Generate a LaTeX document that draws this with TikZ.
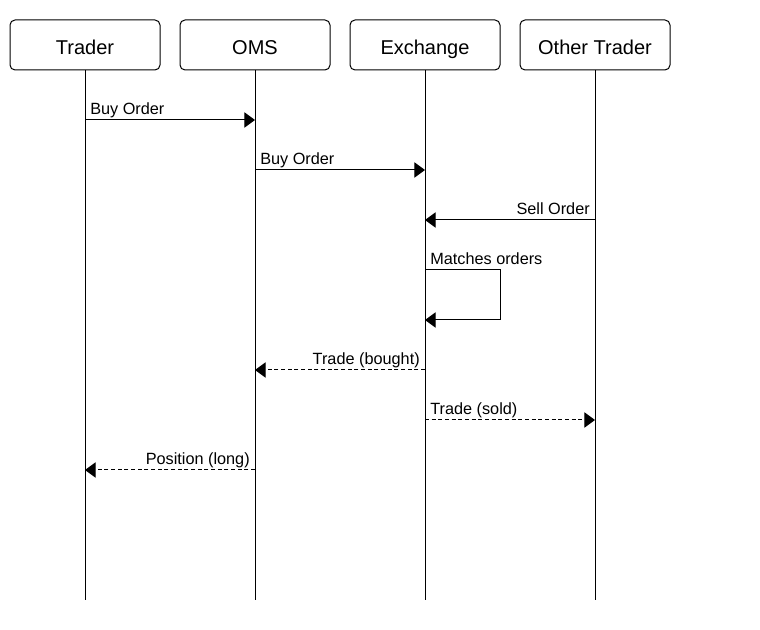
\documentclass[tikz,border=0pt]{standalone}
\usepackage{fontspec}
\setmainfont{Liberation Sans}
\usetikzlibrary{arrows.meta}
\tikzset{
  actor/.style={draw, line width=0.75pt, rounded corners=3.75pt, minimum width=112.5pt, minimum height=37.5pt, inner sep=0pt, text height=13.8pt, text depth=0pt, font=\fontsize{15}{17}\selectfont},
  life/.style={line width=0.75pt},
  msg/.style={line width=0.75pt, -{Triangle[length=8pt,width=11.5pt]}},
  reply/.style={msg, dash pattern=on 3pt off 2pt},
  lbl/.style={inner sep=0pt, font=\fontsize{12.2}{14}\selectfont}
}
\begin{document}
\begin{tikzpicture}[x=0.75pt,y=-0.75pt]
\useasboundingbox (0,0) rectangle (760,630);
% actors
\node[actor] (trader) at (85,45) {Trader};
\node[actor] (oms) at (255,45) {OMS};
\node[actor] (exch) at (425,45) {Exchange};
\node[actor] (other) at (595,45) {Other Trader};
% lifeline ends
\coordinate (traderEnd) at (85,600);
\coordinate (omsEnd) at (255,600);
\coordinate (exchEnd) at (425,600);
\coordinate (otherEnd) at (595,600);
\draw[life] (trader.south) -- (traderEnd);
\draw[life] (oms.south) -- (omsEnd);
\draw[life] (exch.south) -- (exchEnd);
\draw[life] (other.south) -- (otherEnd);
% message points
\coordinate (t1) at (85,120);  \coordinate (o1) at (255,120);
\coordinate (o2) at (255,170); \coordinate (e2) at (425,170);
\coordinate (x3) at (595,220); \coordinate (e3) at (425,220);
\coordinate (e4) at (425,270); \coordinate (l4a) at (500,270);
\coordinate (l4b) at (500,320); \coordinate (e5) at (425,320);
\coordinate (e6) at (425,370); \coordinate (o6) at (255,370);
\coordinate (e7) at (425,420); \coordinate (x7) at (595,420);
\coordinate (o8) at (255,470); \coordinate (t8) at (85,470);
% messages
\draw[msg] (t1) -- (o1);
\node[lbl, anchor=base west] (m1) at (90,114.5) {Buy Order};
\draw[msg] (o2) -- (e2);
\node[lbl, anchor=base west] (m2) at (260,164.5) {Buy Order};
\draw[msg] (x3) -- (e3);
\node[lbl, anchor=base east] (m3) at (590,214.5) {Sell Order};
\draw[msg] (e4) -- (l4a) -- (l4b) -- (e5);
\node[lbl, anchor=base west] (m4) at (430,264.5) {Matches orders};
\draw[reply] (e6) -- (o6);
\node[lbl, anchor=base east] (m5) at (420,364.5) {Trade (bought)};
\draw[reply] (e7) -- (x7);
\node[lbl, anchor=base west] (m6) at (430,414.5) {Trade (sold)};
\draw[reply] (o8) -- (t8);
\node[lbl, anchor=base east] (m7) at (250,464.5) {Position (long)};
\end{tikzpicture}
\end{document}
